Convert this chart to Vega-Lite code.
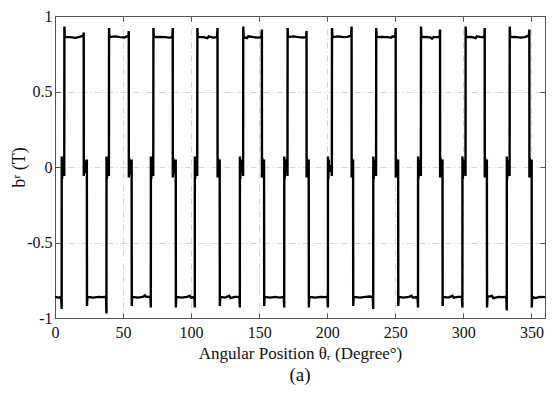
{
  "$schema": "https://vega.github.io/schema/vega-lite/v6.json",
  "width": 490,
  "height": 302,
  "autosize": {"type": "none"},
  "padding": {"left": 55, "top": 16, "right": 12, "bottom": 78},
  "background": "white",
  "title": {"text": "(a)", "orient": "bottom", "offset": 5, "font": "Times New Roman, Liberation Serif, serif", "fontSize": 19, "fontWeight": "normal", "color": "#111"},
  "config": {
    "view": {"stroke": "#555", "strokeWidth": 1},
    "axis": {"labelFont": "Times New Roman, Liberation Serif, serif", "titleFont": "Times New Roman, Liberation Serif, serif", "labelColor": "#111", "titleColor": "#111", "domainColor": "#555", "tickColor": "#555"}
  },
  "data": {"values": [
    {"t": 0, "b": -0.86}, {"t": 2.5, "b": -0.865}, {"t": 4.6, "b": -0.86}, {"t": 4.9, "b": -0.94},
    {"t": 4.95, "b": 0.07}, {"t": 5.25, "b": -0.08}, {"t": 5.55, "b": 0.05}, {"t": 5.85, "b": -0.03}, {"t": 6.5, "b": 0.01}, {"t": 6.8, "b": -0.06},
    {"t": 6.9, "b": 0.93}, {"t": 7.2, "b": 0.86}, {"t": 11, "b": 0.86}, {"t": 15, "b": 0.855}, {"t": 18, "b": 0.862}, {"t": 20.8, "b": 0.87}, {"t": 21.1, "b": 0.89},
    {"t": 21.15, "b": -0.06}, {"t": 21.45, "b": 0.05}, {"t": 21.75, "b": -0.04}, {"t": 22.05, "b": 0.03}, {"t": 23.1, "b": 0.0}, {"t": 23.4, "b": 0.05},
    {"t": 23.5, "b": -0.92}, {"t": 23.8, "b": -0.86}, {"t": 28, "b": -0.865}, {"t": 32, "b": -0.86}, {"t": 35, "b": -0.862}, {"t": 37.5, "b": -0.86}, {"t": 37.8, "b": -0.97},

    {"t": 37.85, "b": 0.07}, {"t": 38.15, "b": -0.08}, {"t": 38.45, "b": 0.05}, {"t": 38.75, "b": -0.03}, {"t": 39.3, "b": 0.01}, {"t": 39.6, "b": -0.06},
    {"t": 39.7, "b": 0.92}, {"t": 40.0, "b": 0.86}, {"t": 44, "b": 0.865}, {"t": 48, "b": 0.86}, {"t": 51, "b": 0.858}, {"t": 53.9, "b": 0.87}, {"t": 54.2, "b": 0.9},
    {"t": 54.25, "b": -0.07}, {"t": 54.55, "b": 0.06}, {"t": 54.85, "b": -0.05}, {"t": 55.15, "b": 0.03}, {"t": 56.0, "b": 0.0}, {"t": 56.3, "b": 0.05},
    {"t": 56.4, "b": -0.92}, {"t": 56.7, "b": -0.86}, {"t": 61, "b": -0.865}, {"t": 65, "b": -0.858}, {"t": 66, "b": -0.85}, {"t": 67, "b": -0.86}, {"t": 70.1, "b": -0.86}, {"t": 70.4, "b": -0.93},

    {"t": 70.45, "b": 0.07}, {"t": 70.75, "b": -0.08}, {"t": 71.05, "b": 0.05}, {"t": 71.35, "b": -0.03}, {"t": 71.9, "b": 0.01}, {"t": 72.2, "b": -0.06},
    {"t": 72.3, "b": 0.92}, {"t": 72.6, "b": 0.86}, {"t": 77, "b": 0.862}, {"t": 81, "b": 0.86}, {"t": 84, "b": 0.857}, {"t": 86.2, "b": 0.86}, {"t": 86.5, "b": 0.92},
    {"t": 86.55, "b": -0.07}, {"t": 86.85, "b": 0.06}, {"t": 87.15, "b": -0.05}, {"t": 87.45, "b": 0.03}, {"t": 88.4, "b": 0.0}, {"t": 88.7, "b": 0.05},
    {"t": 88.8, "b": -0.93}, {"t": 89.1, "b": -0.86}, {"t": 93, "b": -0.865}, {"t": 97, "b": -0.86}, {"t": 99, "b": -0.853}, {"t": 100, "b": -0.865}, {"t": 102.4, "b": -0.86}, {"t": 102.7, "b": -0.93},

    {"t": 102.75, "b": 0.07}, {"t": 103.05, "b": -0.08}, {"t": 103.35, "b": 0.05}, {"t": 103.65, "b": -0.03}, {"t": 104.2, "b": 0.01}, {"t": 104.5, "b": -0.06},
    {"t": 104.6, "b": 0.92}, {"t": 104.9, "b": 0.86}, {"t": 109, "b": 0.86}, {"t": 112, "b": 0.853}, {"t": 113, "b": 0.865}, {"t": 116, "b": 0.857}, {"t": 119.1, "b": 0.86}, {"t": 119.4, "b": 0.92},
    {"t": 119.45, "b": -0.07}, {"t": 119.75, "b": 0.06}, {"t": 120.05, "b": -0.05}, {"t": 120.35, "b": 0.03}, {"t": 120.7, "b": 0.0}, {"t": 121.0, "b": 0.05},
    {"t": 121.1, "b": -0.92}, {"t": 121.4, "b": -0.86}, {"t": 125, "b": -0.865}, {"t": 128, "b": -0.853}, {"t": 129, "b": -0.868}, {"t": 132, "b": -0.86}, {"t": 135.5, "b": -0.86}, {"t": 135.8, "b": -0.93},

    {"t": 135.85, "b": 0.07}, {"t": 136.15, "b": -0.08}, {"t": 136.45, "b": 0.05}, {"t": 136.75, "b": -0.03}, {"t": 137.9, "b": 0.01}, {"t": 138.2, "b": -0.06},
    {"t": 138.3, "b": 0.93}, {"t": 138.6, "b": 0.86}, {"t": 141, "b": 0.853}, {"t": 142, "b": 0.865}, {"t": 146, "b": 0.86}, {"t": 149, "b": 0.857}, {"t": 151.7, "b": 0.86}, {"t": 152.0, "b": 0.91},
    {"t": 152.05, "b": -0.07}, {"t": 152.35, "b": 0.06}, {"t": 152.65, "b": -0.05}, {"t": 152.95, "b": 0.03}, {"t": 153.3, "b": 0.0}, {"t": 153.6, "b": 0.05},
    {"t": 153.7, "b": -0.92}, {"t": 154.0, "b": -0.86}, {"t": 158, "b": -0.865}, {"t": 162, "b": -0.86}, {"t": 165, "b": -0.865}, {"t": 168.1, "b": -0.86}, {"t": 168.4, "b": -0.93},

    {"t": 168.45, "b": 0.07}, {"t": 168.75, "b": -0.08}, {"t": 169.05, "b": 0.05}, {"t": 169.35, "b": -0.03}, {"t": 170.5, "b": 0.01}, {"t": 170.8, "b": -0.06},
    {"t": 170.9, "b": 0.92}, {"t": 171.2, "b": 0.86}, {"t": 175, "b": 0.865}, {"t": 179, "b": 0.86}, {"t": 182, "b": 0.858}, {"t": 184.5, "b": 0.86}, {"t": 184.8, "b": 0.9},
    {"t": 184.85, "b": -0.07}, {"t": 185.15, "b": 0.06}, {"t": 185.45, "b": -0.05}, {"t": 185.75, "b": 0.03}, {"t": 186.1, "b": 0.0}, {"t": 186.4, "b": 0.05},
    {"t": 186.5, "b": -0.93}, {"t": 186.8, "b": -0.86}, {"t": 191, "b": -0.865}, {"t": 195, "b": -0.86}, {"t": 198, "b": -0.862}, {"t": 200.2, "b": -0.86}, {"t": 200.5, "b": -0.93},

    {"t": 200.55, "b": 0.07}, {"t": 200.85, "b": -0.08}, {"t": 201.15, "b": 0.05}, {"t": 201.45, "b": -0.03}, {"t": 203.1, "b": 0.01}, {"t": 203.4, "b": -0.06},
    {"t": 203.5, "b": 0.92}, {"t": 203.8, "b": 0.86}, {"t": 208, "b": 0.865}, {"t": 212, "b": 0.86}, {"t": 215, "b": 0.862}, {"t": 217.6, "b": 0.87}, {"t": 217.9, "b": 0.93},
    {"t": 217.95, "b": -0.07}, {"t": 218.2, "b": 0.06}, {"t": 218.45, "b": -0.05}, {"t": 218.7, "b": 0.03}, {"t": 219.0, "b": 0.05},
    {"t": 219.1, "b": -0.92}, {"t": 219.4, "b": -0.86}, {"t": 224, "b": -0.865}, {"t": 228, "b": -0.86}, {"t": 231, "b": -0.858}, {"t": 233.5, "b": -0.86}, {"t": 233.8, "b": -0.94},

    {"t": 233.85, "b": 0.07}, {"t": 234.15, "b": -0.08}, {"t": 234.45, "b": 0.05}, {"t": 234.75, "b": -0.03}, {"t": 235.6, "b": 0.01}, {"t": 235.9, "b": -0.06},
    {"t": 236.0, "b": 0.92}, {"t": 236.3, "b": 0.86}, {"t": 240, "b": 0.862}, {"t": 244, "b": 0.86}, {"t": 247, "b": 0.857}, {"t": 248, "b": 0.865}, {"t": 250.0, "b": 0.86}, {"t": 250.3, "b": 0.92},
    {"t": 250.35, "b": -0.07}, {"t": 250.65, "b": 0.06}, {"t": 250.95, "b": -0.05}, {"t": 251.25, "b": 0.03}, {"t": 251.8, "b": 0.0}, {"t": 252.1, "b": 0.05},
    {"t": 252.2, "b": -0.92}, {"t": 252.5, "b": -0.86}, {"t": 256, "b": -0.865}, {"t": 260, "b": -0.86}, {"t": 262, "b": -0.853}, {"t": 263, "b": -0.865}, {"t": 266.4, "b": -0.86}, {"t": 266.7, "b": -0.93},

    {"t": 266.75, "b": 0.07}, {"t": 267.05, "b": -0.08}, {"t": 267.35, "b": 0.05}, {"t": 267.65, "b": -0.03}, {"t": 268.5, "b": 0.01}, {"t": 268.8, "b": -0.06},
    {"t": 268.9, "b": 0.93}, {"t": 269.2, "b": 0.86}, {"t": 273, "b": 0.862}, {"t": 276, "b": 0.857}, {"t": 277, "b": 0.85}, {"t": 278, "b": 0.86}, {"t": 282.6, "b": 0.86}, {"t": 282.9, "b": 0.91},
    {"t": 282.95, "b": -0.07}, {"t": 283.25, "b": 0.06}, {"t": 283.55, "b": -0.05}, {"t": 283.85, "b": 0.03}, {"t": 284.4, "b": 0.0}, {"t": 284.7, "b": 0.05},
    {"t": 284.8, "b": -0.92}, {"t": 285.1, "b": -0.86}, {"t": 289, "b": -0.865}, {"t": 292, "b": -0.853}, {"t": 293, "b": -0.865}, {"t": 296, "b": -0.86}, {"t": 299.0, "b": -0.86}, {"t": 299.3, "b": -0.93},

    {"t": 299.35, "b": 0.07}, {"t": 299.65, "b": -0.08}, {"t": 299.95, "b": 0.05}, {"t": 300.25, "b": -0.03}, {"t": 301.3, "b": 0.01}, {"t": 301.6, "b": -0.06},
    {"t": 301.7, "b": 0.93}, {"t": 302.0, "b": 0.86}, {"t": 306, "b": 0.862}, {"t": 309, "b": 0.853}, {"t": 310, "b": 0.865}, {"t": 313, "b": 0.86}, {"t": 315.4, "b": 0.86}, {"t": 315.7, "b": 0.92},
    {"t": 315.75, "b": -0.07}, {"t": 316.05, "b": 0.06}, {"t": 316.35, "b": -0.05}, {"t": 316.65, "b": 0.03}, {"t": 317.0, "b": 0.0}, {"t": 317.3, "b": 0.05},
    {"t": 317.4, "b": -0.93}, {"t": 317.7, "b": -0.86}, {"t": 321, "b": -0.853}, {"t": 322, "b": -0.868}, {"t": 326, "b": -0.86}, {"t": 329, "b": -0.862}, {"t": 331.6, "b": -0.86}, {"t": 331.9, "b": -0.95},

    {"t": 331.95, "b": 0.07}, {"t": 332.25, "b": -0.08}, {"t": 332.55, "b": 0.05}, {"t": 332.85, "b": -0.03}, {"t": 333.7, "b": 0.01}, {"t": 334.0, "b": -0.06},
    {"t": 334.1, "b": 0.93}, {"t": 334.4, "b": 0.86}, {"t": 338, "b": 0.862}, {"t": 342, "b": 0.857}, {"t": 345, "b": 0.86}, {"t": 348.2, "b": 0.87}, {"t": 348.5, "b": 0.91},
    {"t": 348.55, "b": -0.07}, {"t": 348.85, "b": 0.06}, {"t": 349.15, "b": -0.05}, {"t": 349.45, "b": 0.03}, {"t": 349.9, "b": 0.0}, {"t": 350.2, "b": 0.05},
    {"t": 350.3, "b": -0.93}, {"t": 350.6, "b": -0.86}, {"t": 353, "b": -0.868}, {"t": 356, "b": -0.86}, {"t": 360, "b": -0.862}
  ]},
  "layer": [
    {
      "mark": {"type": "line", "color": "#000", "strokeWidth": 2.4, "strokeJoin": "miter", "clip": true},
      "encoding": {
        "x": {"field": "t", "type": "quantitative", "scale": {"domain": [0, 360], "nice": false, "zero": false},
          "axis": {"title": "Angular Position θᵣ (Degree°)", "values": [0, 50, 100, 150, 200, 250, 300, 350], "labelFontSize": 16, "titleFontSize": 17, "titleFontWeight": "normal", "titlePadding": 5, "tickSize": -5, "labelPadding": 11, "labelFlush": false, "grid": true, "gridColor": "#d6d6d6", "gridDash": [6, 3, 1, 3], "gridWidth": 1}},
        "y": {"field": "b", "type": "quantitative", "scale": {"domain": [-1, 1], "nice": false, "zero": false},
          "axis": {"title": "bʳ (T)", "values": [-1, -0.5, 0, 0.5, 1], "labelExpr": "'' + datum.value", "labelFontSize": 16, "titleFontSize": 18, "titleFontWeight": "normal", "titleX": -27, "titleBaseline": "bottom", "tickSize": -5, "labelPadding": 8, "labelFlush": false, "grid": true, "gridColor": "#d6d6d6", "gridDash": [6, 3, 1, 3], "gridWidth": 1}}
      }
    },
    {
      "mark": {"type": "line", "opacity": 0},
      "encoding": {
        "x": {"field": "t", "type": "quantitative", "axis": {"orient": "top", "title": null, "labels": false, "values": [0, 50, 100, 150, 200, 250, 300, 350], "tickSize": -5, "grid": false}},
        "y": {"field": "b", "type": "quantitative", "axis": {"orient": "right", "title": null, "labels": false, "values": [-1, -0.5, 0, 0.5, 1], "tickSize": -5, "grid": false}}
      }
    }
  ],
  "resolve": {"axis": {"x": "independent", "y": "independent"}}
}
